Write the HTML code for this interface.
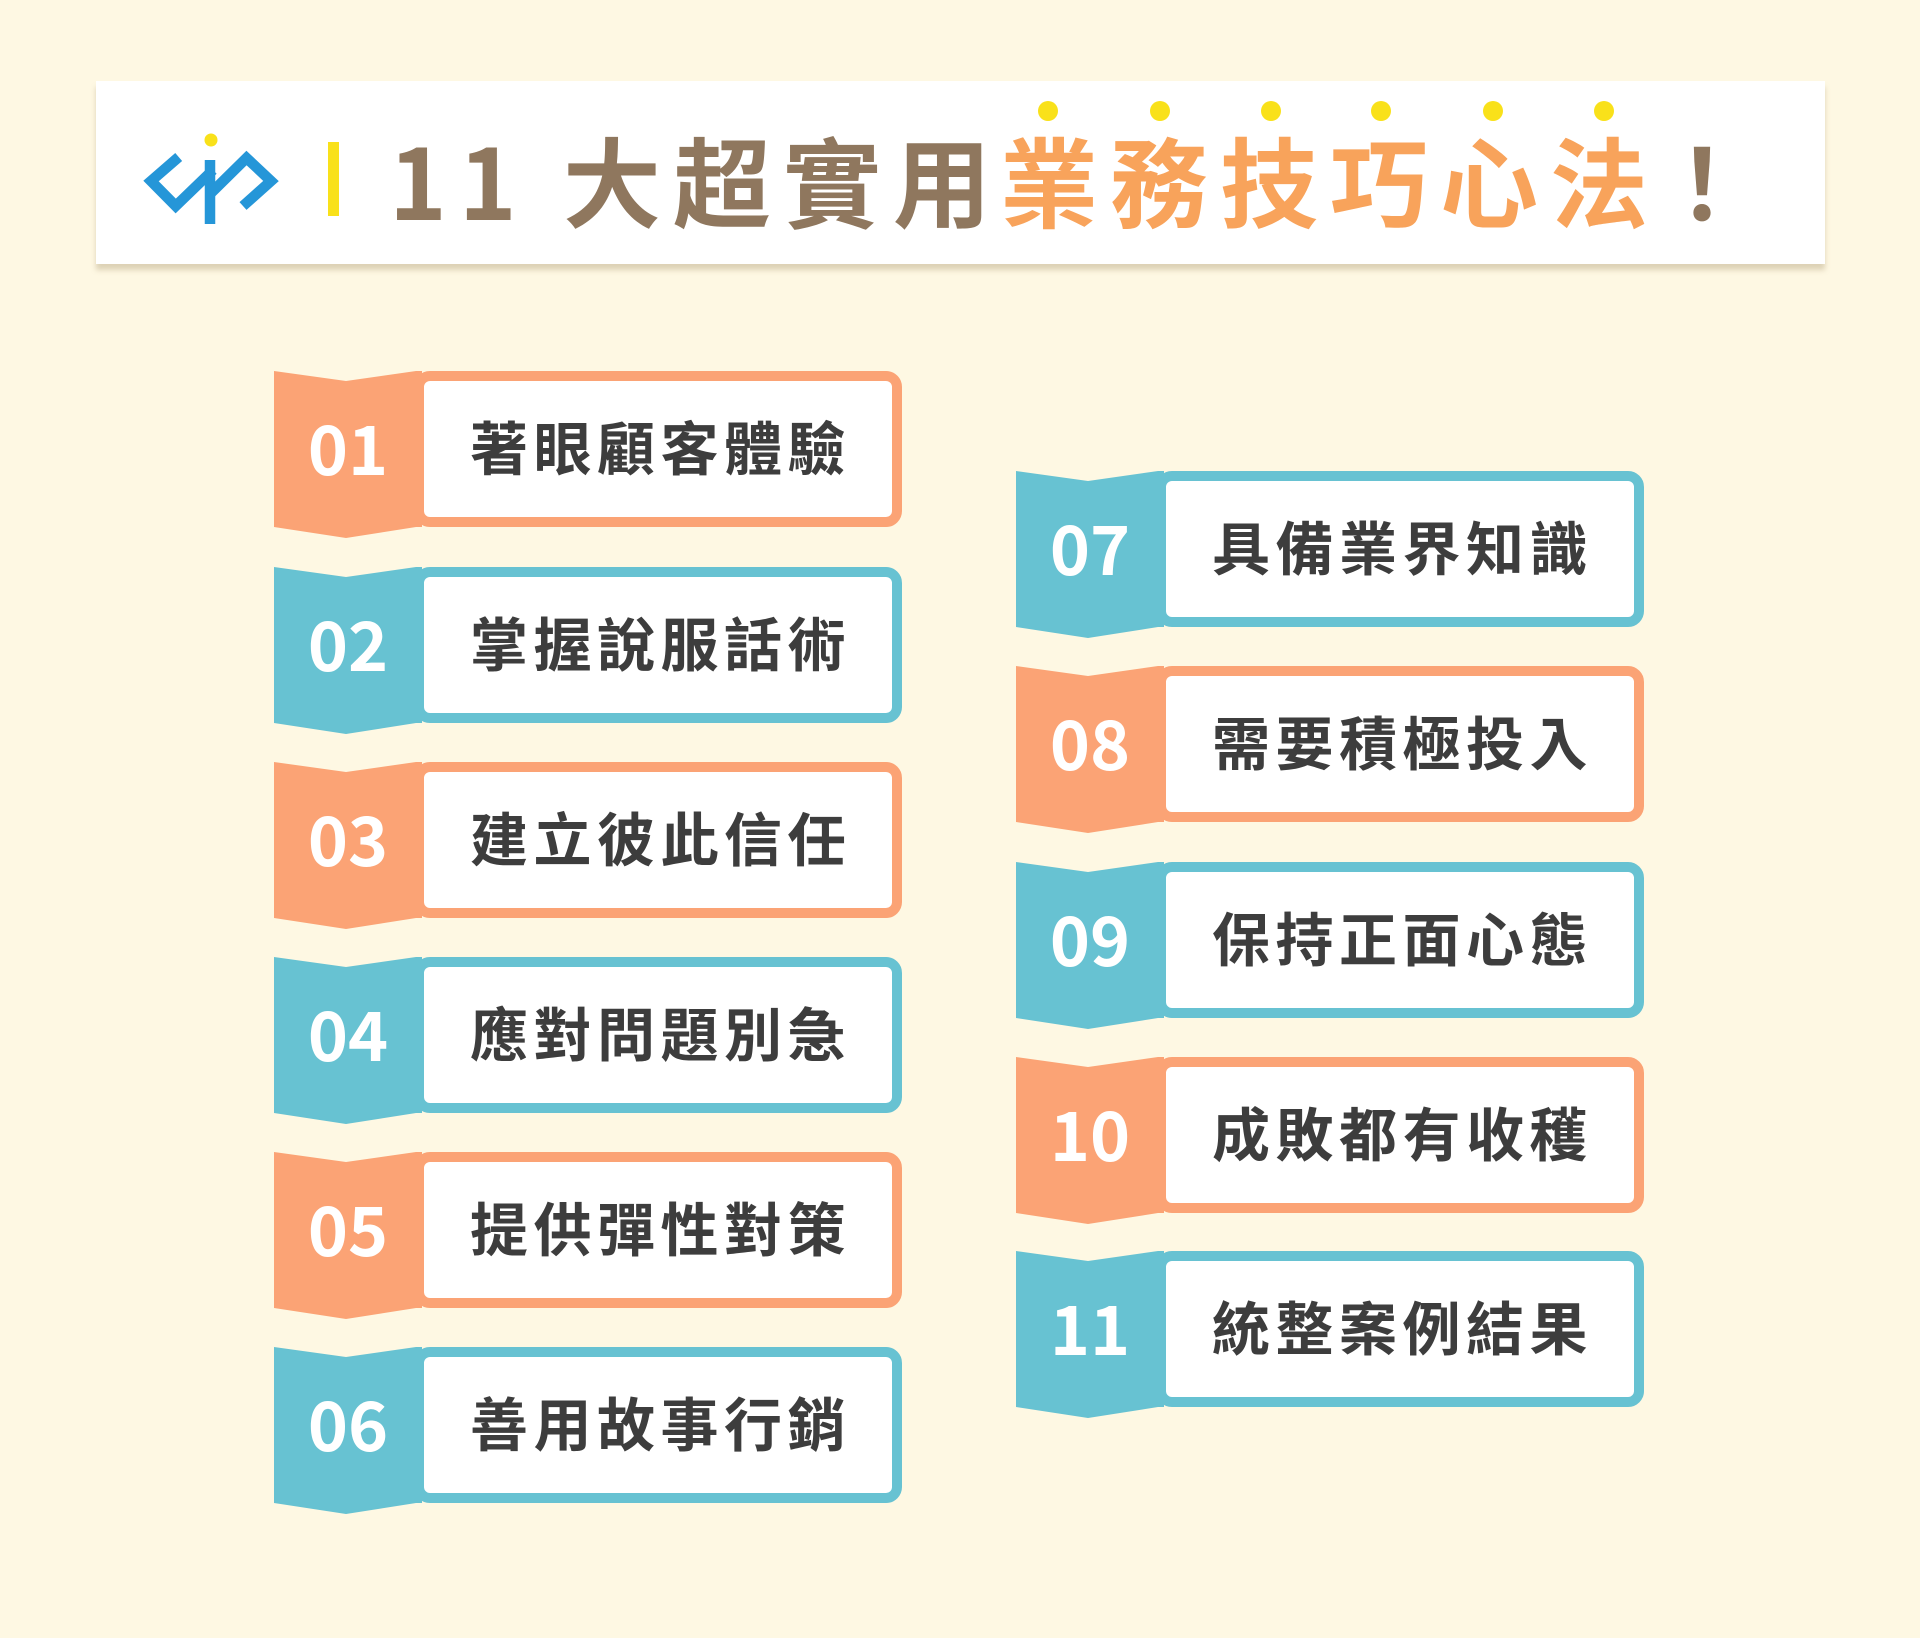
<!DOCTYPE html>
<html><head><meta charset="utf-8"><style>
html,body{margin:0;padding:0}
body{width:1920px;height:1638px;background:#fef8e3;position:relative;overflow:hidden;font-family:"Liberation Sans","Noto Sans CJK TC",sans-serif}
.hdr{position:absolute;left:96px;top:81px;width:1729px;height:183px;background:#fff;box-shadow:0 6px 5px rgba(160,140,100,.35)}
.t{position:absolute;top:118px;font-size:98px;font-weight:bold;line-height:120px;white-space:nowrap;font-family:"Noto Sans CJK TC","Liberation Sans",sans-serif;letter-spacing:12px}
.dot{position:absolute;width:20px;height:20px;border-radius:50%;background:#f9e11a;top:101px}
.item{position:absolute;width:628px;height:178px}
.item svg{position:absolute;left:0;top:0}
.box{position:absolute;left:140px;top:0;width:488px;height:156px;box-sizing:border-box;border:10px solid;border-radius:16px;background:#fff}
.num{position:absolute;left:0;width:148px;top:36px;text-align:center;color:#fff;font-size:68px;font-weight:bold;line-height:78px;font-family:"Noto Sans CJK TC","Liberation Sans",sans-serif}
.lab{position:absolute;left:196px;top:38px;color:#3d3d3d;font-size:58px;font-weight:bold;line-height:72px;letter-spacing:5.5px;white-space:nowrap;font-family:"Noto Sans CJK TC","Liberation Sans",sans-serif}
.o .box{border-color:#fba375}.b .box{border-color:#67c2d2}
</style></head><body>
<div class="hdr"></div>
<svg style="position:absolute;left:0;top:0" width="400" height="240">
<g fill="none" stroke="#2596d8" stroke-width="10.5" stroke-linejoin="miter">
<path d="M178.7,157 L151,181 L175.7,206 L213,170"/>
<path d="M210,160 L210,224"/>
<path d="M210,194 L246.5,158 L271,181 L243,206"/>
</g>
<circle cx="211" cy="140" r="6.5" fill="#f9e11a"/>
<rect x="328" y="142" width="11" height="74" fill="#f9e11a"/>
</svg>
<div class="t" style="left:389px;color:#8f775e">11 大超實用</div>
<div class="t" style="left:1000px;color:#f8a35b">業務技巧心法</div>
<div class="t" style="left:1653px;color:#8f775e">！</div>
<div class="dot" style="left:1038px"></div><div class="dot" style="left:1150px"></div><div class="dot" style="left:1261px"></div><div class="dot" style="left:1371px"></div><div class="dot" style="left:1483px"></div><div class="dot" style="left:1594px"></div>

<div class="item o" style="left:274px;top:371px"><div class="box"></div><svg width="150" height="180"><polygon points="0,0 72,10 142,0 148,0 148,156 142,156 72,167 0,156" fill="#fba375"/></svg><div class="num">01</div><div class="lab">著眼顧客體驗</div></div>
<div class="item b" style="left:274px;top:567px"><div class="box"></div><svg width="150" height="180"><polygon points="0,0 72,10 142,0 148,0 148,156 142,156 72,167 0,156" fill="#67c2d2"/></svg><div class="num">02</div><div class="lab">掌握說服話術</div></div>
<div class="item o" style="left:274px;top:762px"><div class="box"></div><svg width="150" height="180"><polygon points="0,0 72,10 142,0 148,0 148,156 142,156 72,167 0,156" fill="#fba375"/></svg><div class="num">03</div><div class="lab">建立彼此信任</div></div>
<div class="item b" style="left:274px;top:957px"><div class="box"></div><svg width="150" height="180"><polygon points="0,0 72,10 142,0 148,0 148,156 142,156 72,167 0,156" fill="#67c2d2"/></svg><div class="num">04</div><div class="lab">應對問題別急</div></div>
<div class="item o" style="left:274px;top:1152px"><div class="box"></div><svg width="150" height="180"><polygon points="0,0 72,10 142,0 148,0 148,156 142,156 72,167 0,156" fill="#fba375"/></svg><div class="num">05</div><div class="lab">提供彈性對策</div></div>
<div class="item b" style="left:274px;top:1347px"><div class="box"></div><svg width="150" height="180"><polygon points="0,0 72,10 142,0 148,0 148,156 142,156 72,167 0,156" fill="#67c2d2"/></svg><div class="num">06</div><div class="lab">善用故事行銷</div></div>

<div class="item b" style="left:1016px;top:471px"><div class="box"></div><svg width="150" height="180"><polygon points="0,0 72,10 142,0 148,0 148,156 142,156 72,167 0,156" fill="#67c2d2"/></svg><div class="num">07</div><div class="lab">具備業界知識</div></div>
<div class="item o" style="left:1016px;top:666px"><div class="box"></div><svg width="150" height="180"><polygon points="0,0 72,10 142,0 148,0 148,156 142,156 72,167 0,156" fill="#fba375"/></svg><div class="num">08</div><div class="lab">需要積極投入</div></div>
<div class="item b" style="left:1016px;top:862px"><div class="box"></div><svg width="150" height="180"><polygon points="0,0 72,10 142,0 148,0 148,156 142,156 72,167 0,156" fill="#67c2d2"/></svg><div class="num">09</div><div class="lab">保持正面心態</div></div>
<div class="item o" style="left:1016px;top:1057px"><div class="box"></div><svg width="150" height="180"><polygon points="0,0 72,10 142,0 148,0 148,156 142,156 72,167 0,156" fill="#fba375"/></svg><div class="num">10</div><div class="lab">成敗都有收穫</div></div>
<div class="item b" style="left:1016px;top:1251px"><div class="box"></div><svg width="150" height="180"><polygon points="0,0 72,10 142,0 148,0 148,156 142,156 72,167 0,156" fill="#67c2d2"/></svg><div class="num">11</div><div class="lab">統整案例結果</div></div>
</body></html>
